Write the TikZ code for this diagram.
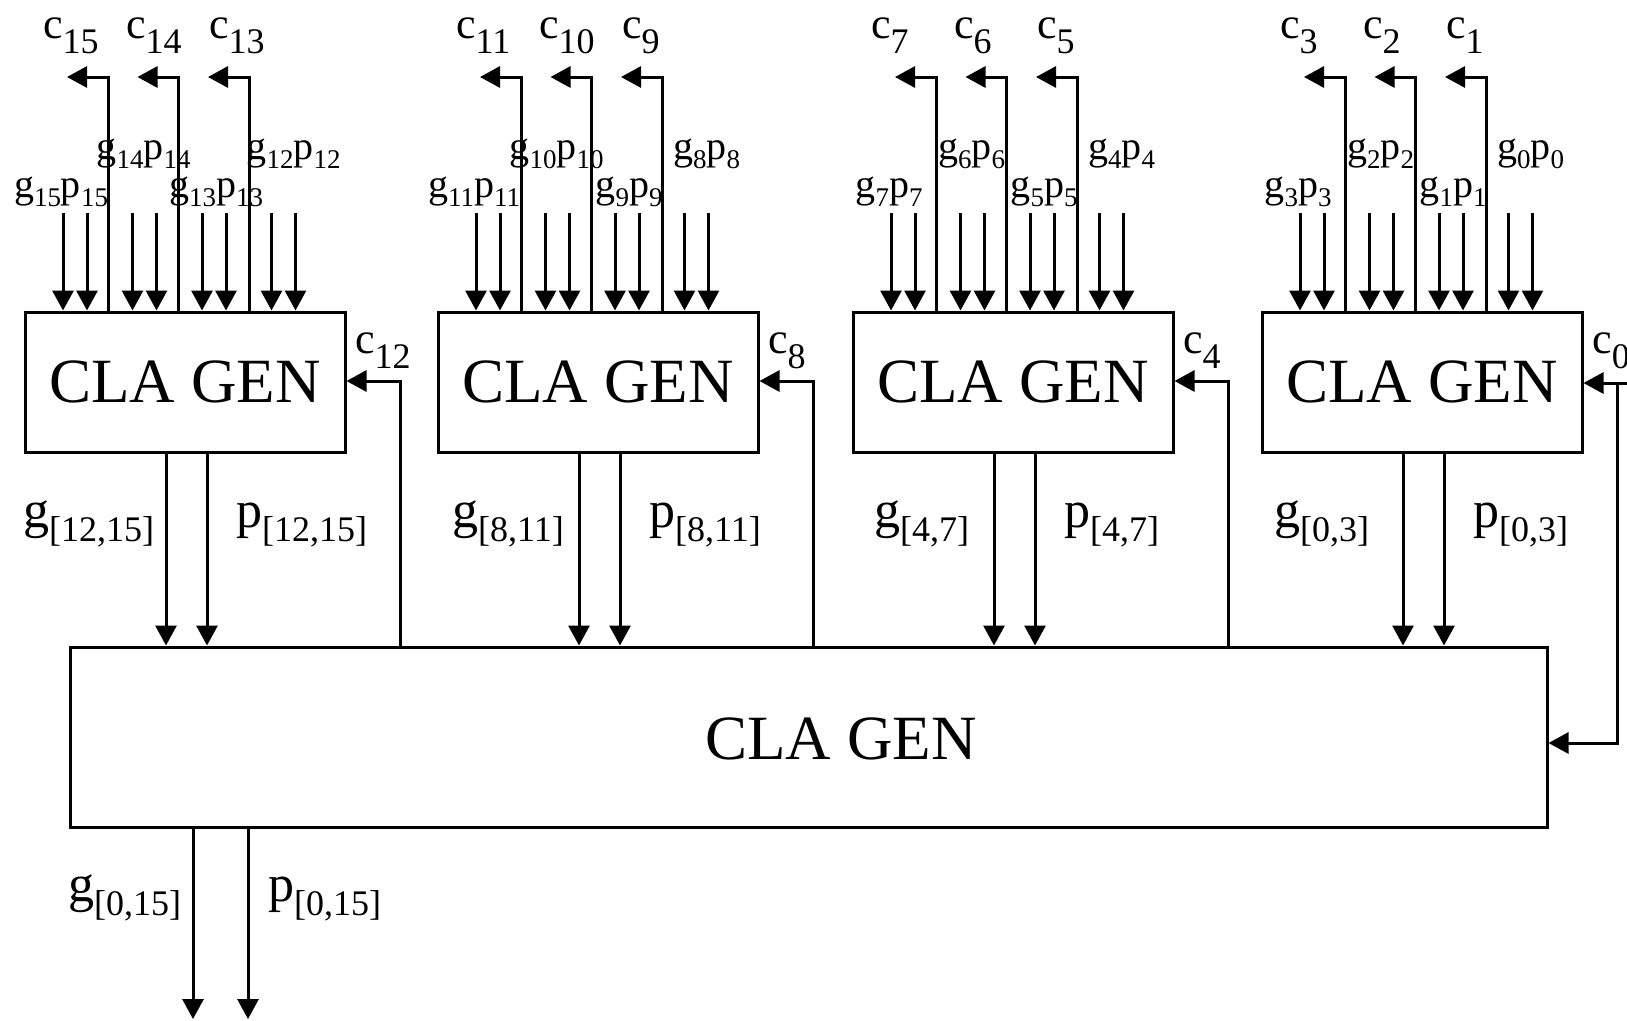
\documentclass[tikz,border=0pt]{standalone}
\usepackage{fontspec}
\setmainfont{Liberation Serif}
\usetikzlibrary{arrows.meta}

% main letter, lowered index
\newcommand{\lab}[5]{{\fontsize{#1}{#1}\selectfont #3}\raisebox{-#5pt}{\fontsize{#2}{#2}\selectfont #4}}
\newcommand{\gpin}[1]{\lab{40}{27}{g}{#1}{9}\lab{40}{27}{p}{#1}{9}}
\newcommand{\cout}[1]{\lab{44}{36}{c}{#1}{15}}
\newcommand{\grp}[2]{\lab{52}{36}{#1}{[#2]}{14}}

\tikzset{
  clabox/.style={draw, line width=3pt, minimum width=320pt, minimum height=140pt,
    inner sep=0pt, font=\fontsize{63}{63}\selectfont},
  wire/.style={line width=3pt},
  sig/.style={wire, -{Triangle[width=21pt,length=20pt]}},
  txt/.style={inner sep=0pt, anchor=base west},
}

\begin{document}
\begin{tikzpicture}[x=1pt, y=-1pt]
  \useasboundingbox (0,0) rectangle (1627,1020);
  % second level generator
  \node[clabox, minimum width=1477pt, minimum height=180pt] (big) at (808.5,737) {};
  \node[inner sep=0pt, font=\fontsize{63}{63}\selectfont] (bigtxt) at (841,739) {CLA GEN};
  % first level generators
  \foreach \n/\x/\msb/\gx in {0/25/15/-2, 1/438/11/14, 2/853/7/21, 3/1262/3/12} {
    \pgfmathtruncatemacro{\lsb}{\msb-3}
    \node[clabox] (cla\n) at (\x+160,382) {CLA GEN};
    \foreach \k/\dx/\ly in {0/-2/197, 1/11/159, 2/14/197, 3/22/159} {
      \pgfmathtruncatemacro{\i}{\msb-\k}
      \coordinate (gi\n\k) at (\x+38+69.5*\k,213);
      \coordinate (pi\n\k) at (\x+62+69.5*\k,213);
      \draw[sig] (gi\n\k) -- (gi\n\k |- cla\n.north);
      \draw[sig] (pi\n\k) -- (pi\n\k |- cla\n.north);
      \node[txt, anchor=base] (gp\n\k) at (\x+38+69.5*\k+\dx,\ly) {\gpin{\i}};
    }
    \foreach \k in {0,1,2} {
      \pgfmathtruncatemacro{\i}{\msb-\k}
      \coordinate (co\n\k) at (\x+83+70.5*\k,77);
      \coordinate (ct\n\k) at (\x+42+70.5*\k,77);
      \draw[sig] (co\n\k |- cla\n.north) -- (co\n\k) -- (ct\n\k);
      \node[txt] (cl\n\k) at (\x+18+83*\k,38) {\cout{\i}};
    }
    \coordinate (go\n) at (\x+141,500);
    \coordinate (po\n) at (\x+182,500);
    \draw[sig] (go\n |- cla\n.south) -- (go\n |- big.north);
    \draw[sig] (po\n |- cla\n.south) -- (po\n |- big.north);
    \node[txt] (gl\n) at (\x+\gx,527) {\grp{g}{\lsb,\msb}};
    \node[txt] (pl\n) at (\x+211,527) {\grp{p}{\lsb,\msb}};
    \node[txt] (ci\n) at (\x+330,353) {\cout{\lsb}};
  }
  % carries back into the first level
  \foreach \n/\x in {0/25, 1/438, 2/853} {
    \coordinate (cr\n) at (\x+375,381);
    \draw[sig] (cr\n |- big.north) -- (cr\n) -- (cr\n -| cla\n.east);
  }
  \coordinate (c0src) at (1640,383);
  \coordinate (c0br) at (1617,383);
  \coordinate (c0dn) at (1617,743);
  \draw[sig] (c0src) -- (c0src -| cla3.east);
  \draw[sig] (c0br) -- (c0dn) -- (c0dn -| big.east);
  % group outputs
  \coordinate (gout) at (193,1019);
  \coordinate (pout) at (248,1019);
  \draw[sig] (gout |- big.south) -- (gout);
  \draw[sig] (pout |- big.south) -- (pout);
  \node[txt] (glout) at (68,901) {\grp{g}{0,15}};
  \node[txt] (plout) at (268,901) {\grp{p}{0,15}};
\end{tikzpicture}
\end{document}
